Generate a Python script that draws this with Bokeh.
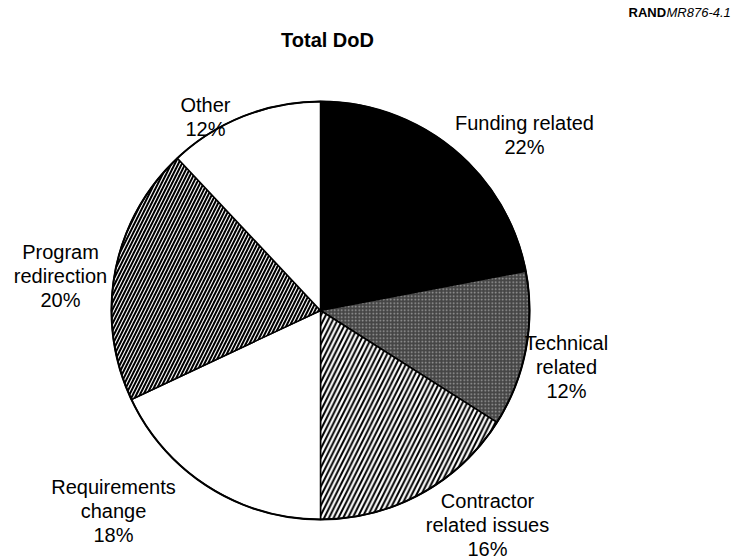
import math
from bokeh.plotting import figure
from bokeh.models import ColumnDataSource, Range1d
from bokeh.core.properties import value
from bokeh.embed import file_html
from bokeh.resources import INLINE

# ---- data ----
categories = ["Funding related", "Technical related", "Contractor related issues",
              "Requirements change", "Program redirection", "Other"]
label_lines = [["Funding related", "22%"],
               ["Technical", "related", "12%"],
               ["Contractor", "related issues", "16%"],
               ["Requirements", "change", "18%"],
               ["Program", "redirection", "20%"],
               ["Other", "12%"]]
shares = [22, 12, 16, 18, 20, 12]
title_text = "Total DoD"
source_tag_bold = "RAND"
source_tag_italic = "MR876-4.1"

# ---- styles / layout ----
W, H = 733, 558
fills = ["black", "#454545", "white", "white", "black", "white"]
hatch_patterns = ["blank", "dot", "/", "blank", "/", "blank"]
hatch_colors = ["white", "white", "black", "black", "white", "black"]
hatch_scales = [6, 3.5, 9.5, 6, 7, 6]
hatch_weights = [1, 1, 2.0, 1, 1.1, 1]
hatch_alphas = [1, 0.5, 1, 1, 1, 1]

cx, cy, R = 320, H - 310, 209
# label anchor (center x, position of first line, from top) in pixels
label_anchor = [(524, 122), (566, 342), (487, 500), (113, 486), (60, 251), (205, 104)]
line_gap = 24

p = figure(width=W, height=H, output_backend="svg", toolbar_location=None,
           x_range=Range1d(0, W), y_range=Range1d(0, H), min_border=0,
           match_aspect=False)
p.axis.visible = False
p.grid.visible = False
p.outline_line_color = None
p.background_fill_color = "white"

total = sum(shares)
starts, ends = [], []
cum = 0.0
for s in shares:
    a0 = math.radians(90 - 360 * (cum + s) / total)
    a1 = math.radians(90 - 360 * cum / total)
    starts.append(a0)
    ends.append(a1)
    cum += s

src = ColumnDataSource(dict(x=[cx] * len(shares), y=[cy] * len(shares),
                            start=starts, end=ends, fill=fills,
                            hp=hatch_patterns, hc=hatch_colors, hs=hatch_scales,
                            hw=hatch_weights, ha=hatch_alphas, cat=categories))
p.wedge(x="x", y="y", radius=R, start_angle="start", end_angle="end",
        direction="anticlock", source=src, fill_color="fill",
        hatch_pattern="hp", hatch_color="hc", hatch_scale="hs",
        hatch_weight="hw", hatch_alpha="ha",
        line_color="black", line_width=1.5)
p.circle(x=[cx], y=[cy], radius=R, fill_color=None, line_color="black",
         line_width=2)

tx, ty, tt = [], [], []
for lines, (ax, ay) in zip(label_lines, label_anchor):
    for i, t in enumerate(lines):
        tx.append(ax)
        ty.append(H - (ay + i * line_gap))
        tt.append(t)
p.text(x=tx, y=ty, text=tt, text_align="center", text_baseline="alphabetic",
       text_font=value("Liberation Sans"), text_font_size="20px",
       text_color="black")

p.text(x=[327], y=[H - 39], text=[title_text], text_align="center",
       text_baseline="alphabetic", text_font=value("Liberation Sans"),
       text_font_size="20px", text_font_style="bold", text_color="black")
p.text(x=[628], y=[H - 12], text=[source_tag_bold], text_align="left",
       text_baseline="alphabetic", text_font=value("Liberation Sans"),
       text_font_size="13px", text_font_style="bold", text_color="black")
p.text(x=[666], y=[H - 12], text=[source_tag_italic], text_align="left",
       text_baseline="alphabetic", text_font=value("Liberation Sans"),
       text_font_size="13px", text_font_style="italic", text_color="black")

open("out.html", "w").write(file_html(p, INLINE))
